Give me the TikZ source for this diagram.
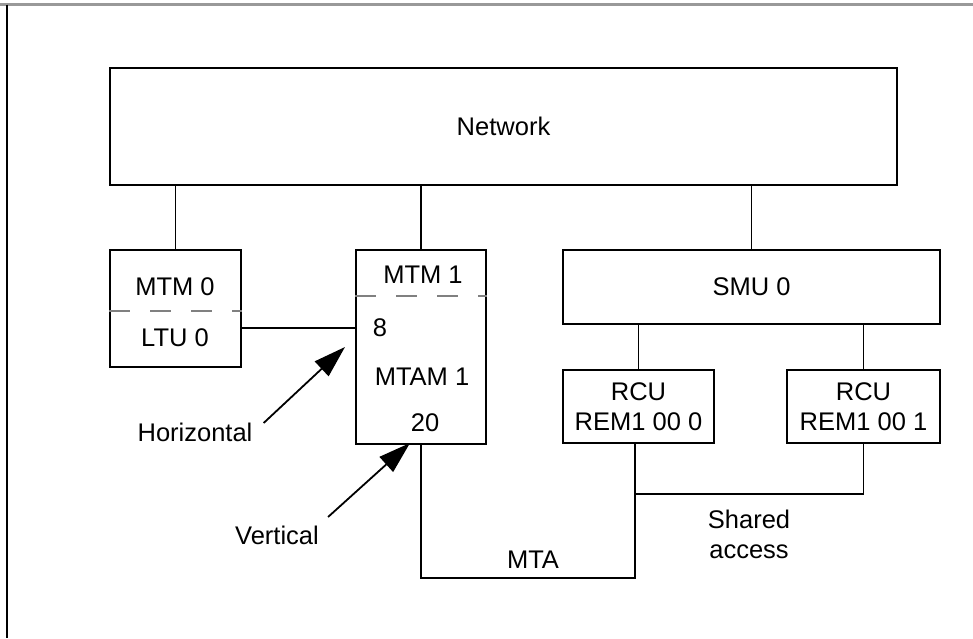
\documentclass[tikz,border=0pt]{standalone}
\usepackage{fontspec}
\setmainfont{Liberation Sans}
\usetikzlibrary{arrows.meta}
\begin{document}
\begin{tikzpicture}[x=1pt, y=-1pt, line width=1.8pt,
    font=\fontsize{25.5}{30}\selectfont,
    box/.style={draw, line width=2pt, inner sep=0pt},
    trenn/.style={gray, line width=1.6pt, dash pattern=on 21pt off 20pt},
    pfeil/.style={-{Triangle[length=32pt,width=20pt]}, line width=1.8pt}]
    \useasboundingbox (0,0) rectangle (973,638);
    % Rahmen
    \draw [gray!80, line width=2.6pt] (0,4.5) -- (973,4.5);
    \draw (7,4.5) -- (7,638);
    % Kaesten
    \node [box, minimum width=787, minimum height=117] (netw) at (503.5,126.5) {Network};
    \node [box, minimum width=131, minimum height=117] (mtm0) at (175.5,308.5) {};
    \node [box, minimum width=130, minimum height=194] (mtm1) at (421,347) {};
    \node [box, minimum width=377, minimum height=74] (smu0) at (751.5,287) {SMU 0};
    \node [box, align=center, minimum width=151, minimum height=73] (rcu0) at (638.5,406.5) {RCU\\REM1 00 0};
    \node [box, align=center, minimum width=153, minimum height=73] (rcu1) at (863.5,406.5) {RCU\\REM1 00 1};
    % Beschriftung in den Kaesten
    \node (mtm0t) at (175,287) {MTM 0};
    \node (ltu0)  at (175,338) {LTU 0};
    \draw [trenn] ([yshift=-2.5pt]mtm0.west) -- ([yshift=-2.5pt]mtm0.east);
    \node (mtm1t) at (423,275) {MTM 1};
    \node (p8)    at (380,328) {8};
    \node (mtam1) at (422,377) {MTAM 1};
    \node (p20)   at (425,423) {20};
    \draw [trenn] ([yshift=51pt]mtm1.west) -- ([yshift=51pt]mtm1.east);
    % Verbindungen
    \draw (mtm0.north |- netw.south) -- (mtm0.north);
    \draw (mtm1.north |- netw.south) -- (mtm1.north);
    \draw (smu0.north |- netw.south) -- (smu0.north);
    \draw (rcu0.north |- smu0.south) -- (rcu0.north);
    \draw (rcu1.north |- smu0.south) -- (rcu1.north);
    \draw (mtm0.east |- p8) -- (mtm1.west |- p8);
    \coordinate (r0) at ([xshift=-3.5pt]rcu0.south);
    \draw (mtm1.south) -- ++(0,133) -| (r0);
    \draw (r0) ++(0,50) -| (rcu1.south);
    % Texte
    \node (horiz)  at (195,432) {Horizontal};
    \node (vert)   at (277,535) {Vertical};
    \node (mta)    at (533,560) {MTA};
    \node [align=center] (shared) at (749,534) {Shared\\access};
    % Pfeile
    \coordinate (htip) at ([xshift=-10pt]mtm1.west);
    \coordinate (vtip) at ([xshift=-11pt,yshift=2pt]mtm1.south);
    \draw [pfeil] ([shift={(7,-9)}]horiz.east) -- (htip);
    \draw [pfeil] ([shift={(5,-18)}]vert.east) -- (vtip);
\end{tikzpicture}
\end{document}
